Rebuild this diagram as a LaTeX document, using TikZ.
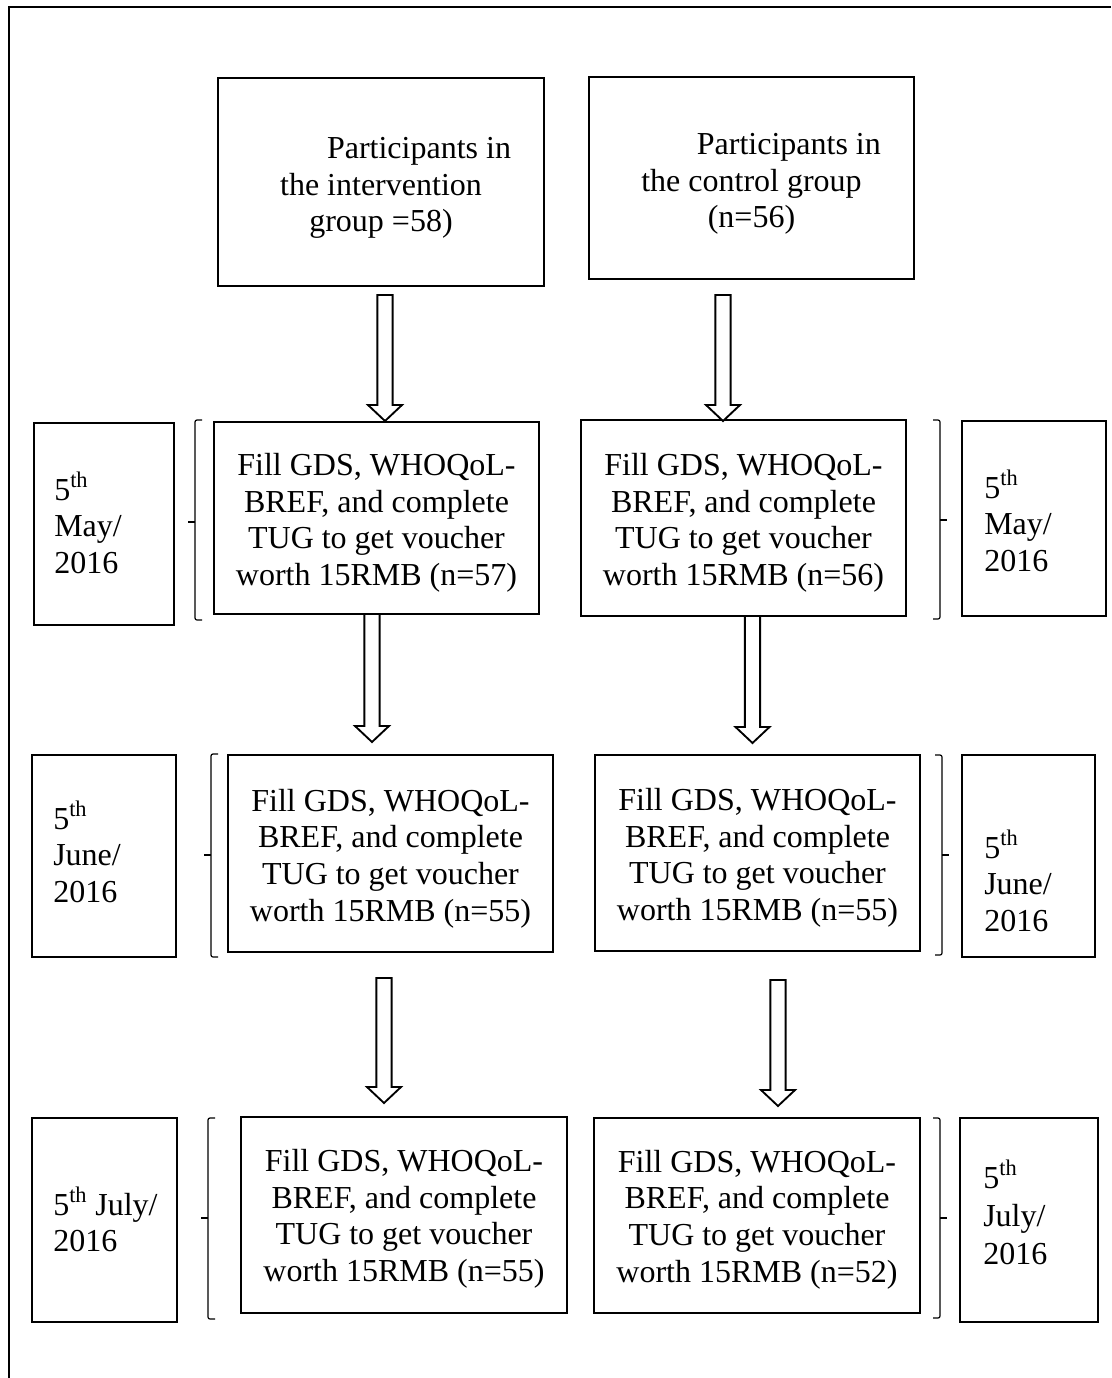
\documentclass[tikz,border=0pt]{standalone}
\usepackage{fontspec}
\setmainfont{Liberation Serif}
\usetikzlibrary{fit,calc}
\newcommand\boxfont{\fontsize{24}{27.4}\selectfont}
\newcommand\datefont{\fontsize{24}{27.6}\selectfont}
\tikzset{
  box/.style={draw, line width=1.8pt, inner sep=0pt},
  boxtext/.style={inner sep=0pt, align=center, font=\boxfont, anchor=center},
  datebox/.style={draw, line width=1.8pt, inner sep=0pt},
  datetext/.style={anchor=base west, inner sep=0pt, font=\datefont},
  brk/.style={line width=0.9pt, rounded corners=1.5pt},
  blockarr/.style={draw, line width=1.4pt, fill=white, line join=miter},
  frameline/.style={line width=2pt},
}
\newcommand\blockarrow[2]{%
  \path[blockarr] let \p1=(#1), \p2=(#2) in
   (\x1-5.7pt,\y1) -- (\x1-5.7pt,\y2+12pt) -- (\x1-12.75pt,\y2+12pt) -- (\x1,\y2)
   -- (\x1+12.75pt,\y2+12pt) -- (\x1+5.7pt,\y2+12pt) -- (\x1+5.7pt,\y1) -- cycle;}
\newcommand\lbrk[4]{%
  \draw[brk] (#1+7,#2) -| (#1,#3) |- (#1+7,#4);
  \draw[brk] (#1,#3) -- (#1-7,#3);}
\newcommand\rbrk[4]{%
  \draw[brk] (#1-7,#2) -| (#1,#3) |- (#1-7,#4);
  \draw[brk] (#1,#3) -- (#1+7,#3);}
\newcommand\datelines[3]{\begin{tabular}[t]{@{}l@{}}#1\\#2\\#3\end{tabular}}
\newcommand\fillt[1]{Fill GDS, WHOQoL-\\BREF, and complete\\TUG to get voucher\\worth 15RMB (n=#1)}
\begin{document}
\begin{tikzpicture}[x=0.75pt, y=-0.75pt]
\useasboundingbox (0,0) rectangle (1111,1378);
% outer frame
\draw[frameline] (9,1378) -- (9,7) -- (1111,7);

% top group boxes
\node[box, fit={(218,78) (544,286)}] (g1) {};
\node[boxtext] (g1t) at ($(g1.center)+(0,6)$) {\hspace*{57pt}Participants in\\the intervention\\group =58)};
\node[box, fit={(589,77) (914,279)}] (g2) {};
\node[boxtext] (g2t) at ($(g2.center)+(0,6)$) {\hspace*{56pt}Participants in\\the control group\\(n=56)};

% row 1 (May)
\node[datebox, fit={(34,423) (174,625)}] (d1L) {};
\node[box, fit={(214,422) (539,614)}] (b1L) {};
\node[boxtext] (b1Lt) at ($(b1L.center)+(0,5)$) {\fillt{57}};
\node[box, fit={(581,420) (906,616)}] (b1R) {};
\node[boxtext] (b1Rt) at ($(b1R.center)+(0,5)$) {\fillt{56}};
\node[datebox, fit={(962,421) (1106,616)}] (d1R) {};
\node[datetext] (t1L) at (54,500) {\datelines{5\textsuperscript{th}}{May/}{2016}};
\node[datetext] (t1R) at (984,498) {\datelines{5\textsuperscript{th}}{May/}{2016}};
\lbrk{195}{420}{522}{620}
\rbrk{940}{420}{520}{619}

% row 2 (June)
\node[datebox, fit={(32,755) (176,957)}] (d2L) {};
\node[box, fit={(228,755) (553,952)}] (b2L) {};
\node[boxtext] (b2Lt) at ($(b2L.center)+(0,5)$) {\fillt{55}};
\node[box, fit={(595,755) (920,951)}] (b2R) {};
\node[boxtext] (b2Rt) at ($(b2R.center)+(0,5)$) {\fillt{55}};
\node[datebox, fit={(962,755) (1095,957)}] (d2R) {};
\node[datetext] (t2L) at (53,829) {\datelines{5\textsuperscript{th}}{June/}{2016}};
\node[datetext] (t2R) at (984,858) {\datelines{5\textsuperscript{th}}{June/}{2016}};
\lbrk{211}{754}{855}{957}
\rbrk{942}{755}{855}{955}

% row 3 (July)
\node[datebox, fit={(32,1118) (177,1322)}] (d3L) {};
\node[box, fit={(241,1117) (567,1313)}] (b3L) {};
\node[boxtext] (b3Lt) at ($(b3L.center)+(0,4)$) {\fillt{55}};
\node[box, fit={(594,1118) (920,1313)}] (b3R) {};
\node[boxtext] (b3Rt) at ($(b3R.center)+(0,4)$) {\fillt{52}};
\node[datebox, fit={(960,1118) (1098,1322)}] (d3R) {};
\node[datetext] (t3L) at (53,1215) {\begin{tabular}[t]{@{}l@{}}5\textsuperscript{th} July/\\2016\end{tabular}};
\node[datetext, font=\fontsize{24}{28.8}\selectfont] (t3R) at (983,1188) {\datelines{5\textsuperscript{th}}{July/}{2016}};
\lbrk{208}{1118}{1218}{1319}
\rbrk{940}{1118}{1218}{1318}

% arrows
\coordinate (a0Ls) at (385,295); \coordinate (a0Le) at (385,421);
\coordinate (a0Rs) at (723,295); \coordinate (a0Re) at (723,421);
\coordinate (a1Ls) at (372,614); \coordinate (a1Le) at (372,742);
\coordinate (a1Rs) at (752.5,616); \coordinate (a1Re) at (752.5,743);
\coordinate (a2Ls) at (384,978); \coordinate (a2Le) at (384,1103);
\coordinate (a2Rs) at (778,980); \coordinate (a2Re) at (778,1106);
\blockarrow{a0Ls}{a0Le}
\blockarrow{a0Rs}{a0Re}
\blockarrow{a1Ls}{a1Le}
\blockarrow{a1Rs}{a1Re}
\blockarrow{a2Ls}{a2Le}
\blockarrow{a2Rs}{a2Re}
\end{tikzpicture}
\end{document}
